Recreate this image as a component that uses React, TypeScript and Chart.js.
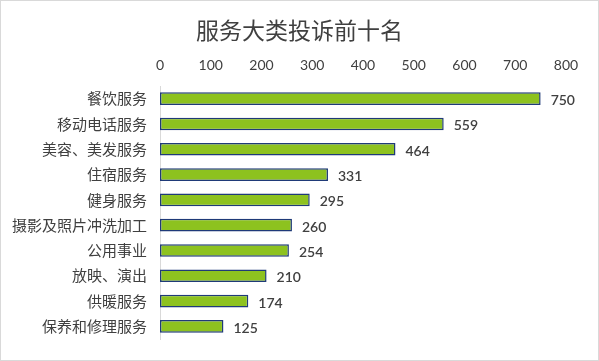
import React, { useEffect, useRef } from "react";
import { Chart, registerables } from "chart.js";

Chart.register(...registerables);

const title = "服务大类投诉前十名";
const categories = [
  "餐饮服务",
  "移动电话服务",
  "美容、美发服务",
  "住宿服务",
  "健身服务",
  "摄影及照片冲洗加工",
  "公用事业",
  "放映、演出",
  "供暖服务",
  "保养和修理服务",
];
const values = [750, 559, 464, 331, 295, 260, 254, 210, 174, 125];
const axisMin = 0;
const axisMax = 800;
const axisStep = 100;

const valueLabels = {
  id: "valueLabels",
  afterDatasetsDraw(chart: any) {
    const ctx = chart.ctx;
    const meta = chart.getDatasetMeta(0);
    ctx.save();
    ctx.font = "600 14px Lato, 'Noto Sans', sans-serif";
    ctx.fillStyle = "#404040";
    ctx.textAlign = "left";
    ctx.textBaseline = "middle";
    meta.data.forEach((el: any, i: number) => {
      ctx.fillText(String(values[i]), el.x + 10, el.y + 2);
    });
    ctx.restore();
  },
};

const centeredTitle = {
  id: "centeredTitle",
  afterDraw(chart: any) {
    const ctx = chart.ctx;
    ctx.save();
    ctx.font = "23px 'Noto Sans CJK SC'";
    ctx.fillStyle = "#404040";
    ctx.textAlign = "center";
    ctx.textBaseline = "middle";
    ctx.fillText(title, chart.width / 2, 30);
    ctx.restore();
  },
};

export default function App() {
  const ref = useRef<HTMLCanvasElement | null>(null);
  useEffect(() => {
    if (!ref.current) return;
    const chart = new Chart(ref.current, {
      type: "bar",
      data: {
        labels: categories,
        datasets: [
          {
            data: values,
            backgroundColor: "#8dc21f",
            borderColor: "#1f3a78",
            borderWidth: 1.5,
            borderSkipped: false,
            barPercentage: 0.5,
            categoryPercentage: 1,
          },
        ],
      },
      options: {
        indexAxis: "y",
        animation: false,
        responsive: false,
        maintainAspectRatio: false,
        layout: { padding: { left: 0, right: 33, bottom: 19, top: 52 } },
        plugins: {
          legend: { display: false },
          tooltip: { enabled: false },
          title: { display: false },
        },
        scales: {
          x: {
            position: "top",
            min: axisMin,
            max: axisMax,
            grid: { display: false, drawTicks: false },
            border: { display: false },
            ticks: {
              stepSize: axisStep,
              color: "#404040",
              padding: 12,
              font: { size: 14, family: "Lato, 'Noto Sans'" },
            },
            afterFit: (s: any) => {
              s.height = 34;
            },
          },
          y: {
            grid: { display: false, drawTicks: false },
            border: { display: true, color: "#d9d9d9", width: 1 },
            ticks: {
              color: "#404040",
              padding: 13,
              font: { size: 15, family: "'Noto Sans CJK SC'" },
            },
            afterFit: (s: any) => {
              s.width = 160;
            },
          },
        },
      },
      plugins: [valueLabels, centeredTitle],
    });
    return () => chart.destroy();
  }, []);
  return (
    <div style={{ position: "fixed", left: 0, top: 0, width: 599, height: 361, background: "#fff" }}>
      <canvas ref={ref} width={599} height={361} style={{ position: "absolute", left: 0, top: 0 }} />
      <div
        style={{
          position: "absolute",
          left: 0,
          top: 0,
          width: 599,
          height: 361,
          boxSizing: "border-box",
          border: "1px solid #d9d9d9",
          pointerEvents: "none",
        }}
      />
    </div>
  );
}
